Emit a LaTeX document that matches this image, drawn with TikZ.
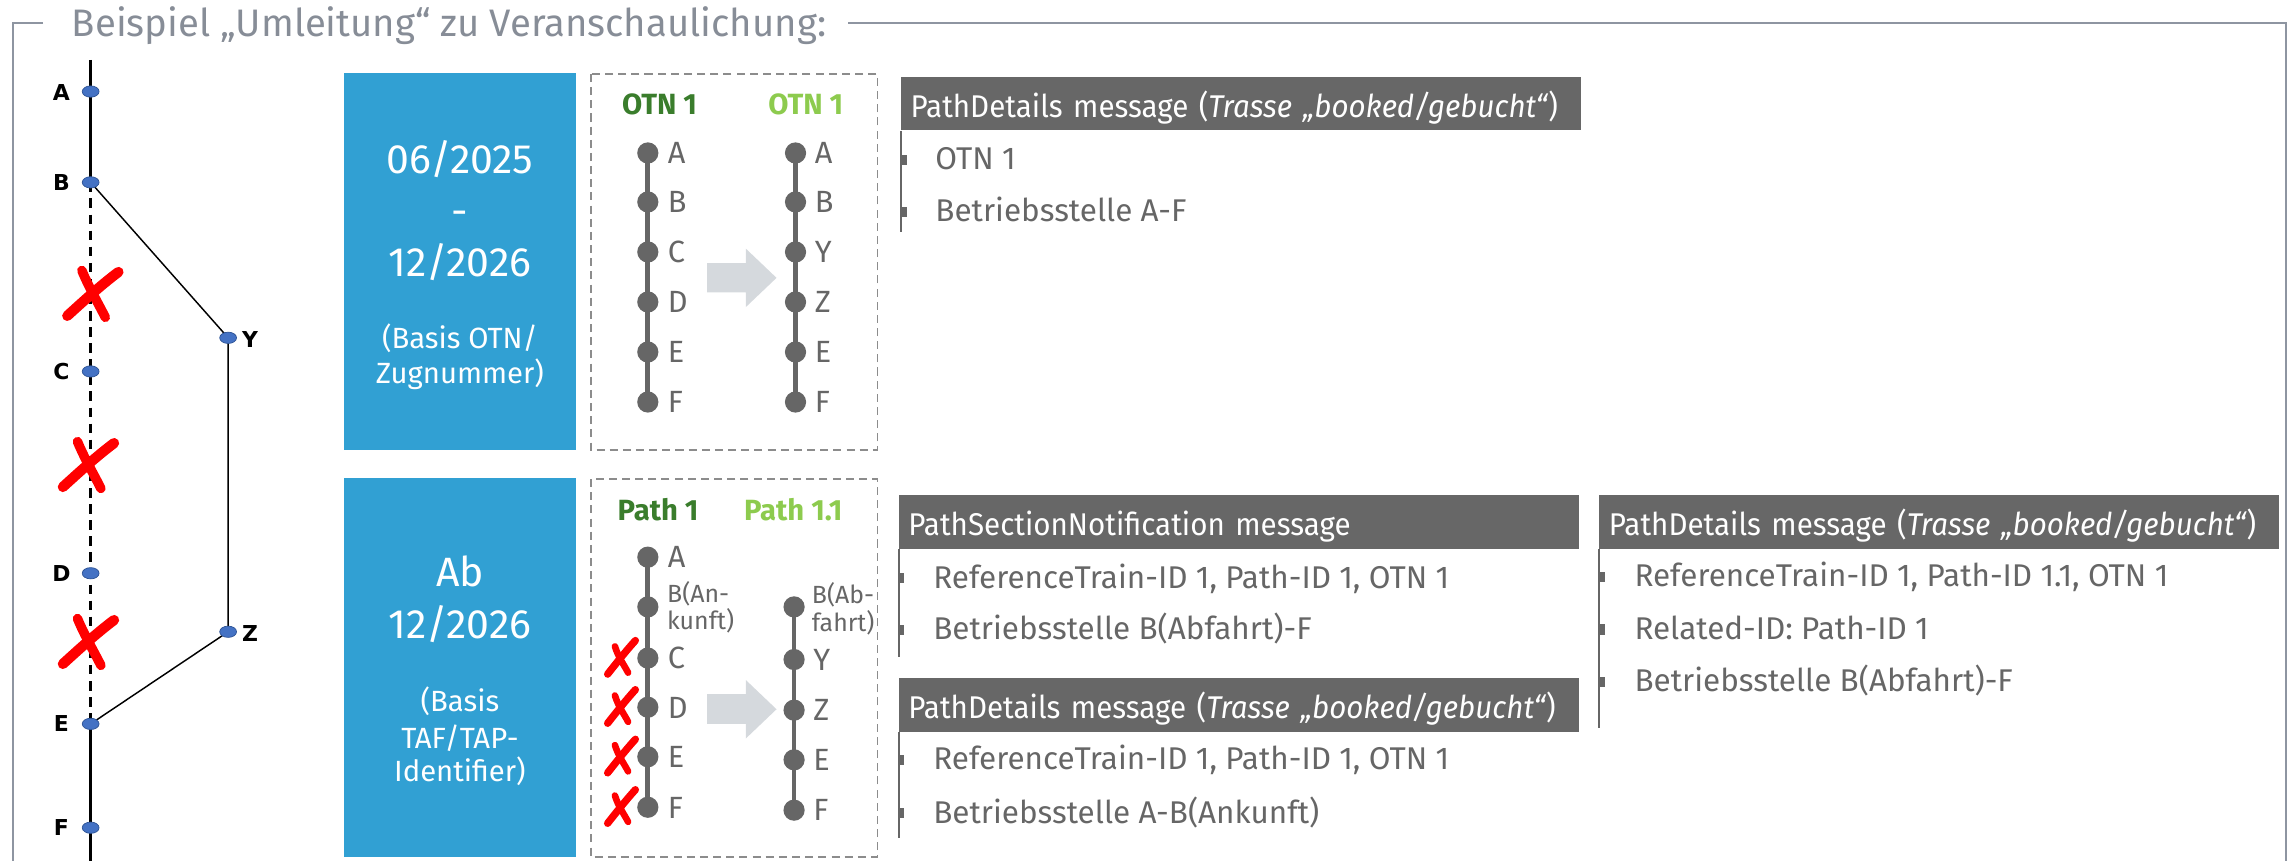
\documentclass[tikz,border=0pt]{standalone}
\usepackage{fontspec}
\setmainfont{Fira Sans}
\newfontfamily\hdrf{Fira Sans}[FakeStretch=0.94]
\newfontfamily\lblf{DejaVu Sans}
\usetikzlibrary{shapes.geometric}
\pgfdeclarelayer{bg}
\pgfsetlayers{bg,main}

\definecolor{framec}{HTML}{8E95A1}
\definecolor{titlec}{HTML}{878D97}
\definecolor{dbblue}{HTML}{31A0D3}
\definecolor{trackc}{HTML}{666666}
\definecolor{darkgreen}{HTML}{3A7D2C}
\definecolor{lightgreen}{HTML}{8DCB4E}
\definecolor{arrowc}{HTML}{D5D9DD}
\definecolor{headc}{HTML}{676767}
\definecolor{itemc}{HTML}{666666}
\definecolor{dotblue}{HTML}{4472C4}
\definecolor{dotedge}{HTML}{2F5597}
\definecolor{dashc}{HTML}{8C8C8C}
\definecolor{xred}{HTML}{FF0000}

\tikzset{
  frameline/.style={draw=framec, line width=1.4},
  bluedot/.style={ellipse, fill=dotblue, draw=dotedge, line width=0.5, minimum width=11.5, minimum height=7.7, inner sep=0},
  trk/.style={font=\lblf\bfseries\fontsize{15}{15}\selectfont, text=black, inner sep=0},
  redstroke/.style={draw=xred, line cap=round, line join=round},
  bigx/.pic={
    \draw[redstroke, line width=7] (-17,15) .. controls (-6,5) and (6,-6) .. (18,-15);
    \draw[redstroke, line width=6.5] (-7,-16) .. controls (-2,-4) and (4,6) .. (9,16);
  },
  smallx/.pic={
    \draw[redstroke, line width=5] (9.5,-12) .. controls (4,-6) and (-4,4) .. (-9.5,11);
    \draw[redstroke, line width=4.5] (-4.5,-8) .. controls (-2,0) and (2,5) .. (4.5,10);
  },
  bluebox/.style={fill=dbblue, inner sep=0, anchor=north west},
  btxt/.style={text=white, anchor=base, inner sep=0},
  dbox/.style={draw=dashc, line width=1.1, dash pattern=on 5.5 off 3.5},
  gdot/.style={circle, fill=trackc, minimum size=14.5, inner sep=0},
  glbl/.style={anchor=base west, inner sep=0, text=trackc, font=\fontsize{21}{21}\selectfont},
  glbls/.style={anchor=base west, inner sep=0, text=trackc, font=\fontsize{17}{17}\selectfont},
  gline/.style={draw=trackc, line width=3.3},
  blockarrow/.style={fill=arrowc},
  colhead/.style={anchor=base, inner sep=0, font=\bfseries\fontsize{20}{20}\selectfont},
  msghead/.style={anchor=north west, fill=headc, text=white, inner xsep=6.5, inner ysep=0, minimum height=36.6, text width=452, align=left, text height=20, text depth=1.4, font=\hdrf\fontsize{21.5}{21.5}\selectfont},
  msgitem/.style={anchor=base west, inner sep=0, text=itemc, font=\fontsize{21.5}{21.5}\selectfont},
  msgline/.style={draw=itemc, line width=1.3},
  bullet/.style={fill=itemc},
}

\begin{document}
\begin{tikzpicture}[x=1pt,y=-1pt]
\useasboundingbox (0,0) rectangle (1568,589);

% ---------- title and frame
\node[anchor=base west, inner sep=0, text=titlec, font=\fontsize{26.2}{26.2}\selectfont] (title) at (49,25) {Beispiel „Umleitung“ zu Veranschaulichung:};
\coordinate (fa) at (29.5,16);
\coordinate (fTL) at (8.6,16);
\coordinate (fBL) at (8.6,589);
\coordinate (fb) at (580,16);
\coordinate (fTR) at (1563,16);
\coordinate (fBR) at (1563,589);
\draw[frameline] (fa) -- (fTL) -- (fBL);
\draw[frameline] (fb) -- (fTR) -- (fBR);

% ---------- left track sketch
\node[bluedot] (pA) at (62,62.6) {};
\node[bluedot] (pB) at (62,124.7) {};
\node[bluedot] (pC) at (62,254) {};
\node[bluedot] (pD) at (62,392) {};
\node[bluedot] (pE) at (62,495) {};
\node[bluedot] (pF) at (62,566) {};
\node[bluedot] (pY) at (156,231) {};
\node[bluedot] (pZ) at (156,432) {};
\coordinate (ltop) at (62,41);
\coordinate (lbot) at (62,589);
\node[trk] (lA) at (42,63) {A};
\node[trk] (lB) at (42,125) {B};
\node[trk] (lC) at (42,254) {C};
\node[trk] (lD) at (42,392) {D};
\node[trk] (lE) at (42,495) {E};
\node[trk] (lF) at (42,566) {F};
\node[trk] (lY) at (171,232) {Y};
\node[trk] (lZ) at (171,433) {Z};
\begin{pgfonlayer}{bg}
\draw[line width=2.3] (ltop) -- (pA.center) -- (pB.center);
\draw[line width=2.3, dash pattern=on 6.5 off 4.5] (pB.center) -- (pE.center);
\draw[line width=2.3] (pE.center) -- (lbot);
\draw[line width=1] (pB.center) -- (pY.center) -- (pZ.center) -- (pE.center);
\end{pgfonlayer}
\pic at (63,201) {bigx};
\pic at (60,318) {bigx};
\pic at (60,439) {bigx};

% ---------- blue boxes
\node[bluebox, minimum width=159, minimum height=258] (bx1) at (235,49.7) {};
\node[btxt, font=\fontsize{28}{28}\selectfont] (b1a) at (314.5,118.7) {06/2025};
\node[btxt, font=\fontsize{28}{28}\selectfont] (b1b) at (314.5,154) {-};
\node[btxt, font=\fontsize{28}{28}\selectfont] (b1c) at (314.5,189) {12/2026};
\node[btxt, font=\fontsize{20}{20}\selectfont] (b1d) at (314.5,238) {(Basis OTN/};
\node[btxt, font=\fontsize{20}{20}\selectfont] (b1e) at (314.5,262) {Zugnummer)};

\node[bluebox, minimum width=159, minimum height=259] (bx2) at (235,327) {};
\node[btxt, font=\fontsize{28}{28}\selectfont] (b2a) at (314.5,401) {Ab};
\node[btxt, font=\fontsize{28}{28}\selectfont] (b2b) at (314.5,436.5) {12/2026};
\node[btxt, font=\fontsize{20}{20}\selectfont] (b2c) at (314.5,486.6) {(Basis};
\node[btxt, font=\fontsize{20}{20}\selectfont] (b2d) at (314.5,511.6) {TAF/TAP-};
\node[btxt, font=\fontsize{20}{20}\selectfont] (b2e) at (314.5,534.5) {Identifier)};

% ---------- dashed boxes
\draw[dbox] (404,50.6) rectangle (600,307.7);
\draw[dbox] (404,327.6) rectangle (600,586);

% top dashed content
\node[colhead, text=darkgreen] (h1l) at (451,78.6) {OTN 1};
\node[colhead, text=lightgreen] (h1r) at (551,78.6) {OTN 1};
\foreach \n/\y/\l in {1/104.6/A,2/138.1/B,3/172.3/C,4/206.5/D,5/240.7/E,6/274.9/F}{
  \node[gdot] (ta\n) at (443,\y) {};
  \node[glbl] (tal\n) at (456.5,\y+7.4) {\l};
}
\foreach \n/\y/\l in {1/104.6/A,2/138.1/B,3/172.3/Y,4/206.5/Z,5/240.7/E,6/274.9/F}{
  \node[gdot] (tb\n) at (544,\y) {};
  \node[glbl] (tbl\n) at (557,\y+7.4) {\l};
}
\begin{pgfonlayer}{bg}
\draw[gline] (ta1.center) -- (ta6.center);
\draw[gline] (tb1.center) -- (tb6.center);
\end{pgfonlayer}
\fill[blockarrow] (483.6,180) -- (510,180) -- (510,170) -- (531,190) -- (510,210) -- (510,200) -- (483.6,200) -- cycle;

% bottom dashed content
\node[colhead, text=darkgreen] (h2l) at (450,355.6) {Path 1};
\node[colhead, text=lightgreen] (h2r) at (542.5,355.6) {Path 1.1};
\node[gdot] (ua1) at (443,381) {};
\node[gdot] (ua2) at (443,415) {};
\node[gdot] (ua3) at (443,450) {};
\node[gdot] (ua4) at (443,483.6) {};
\node[gdot] (ua5) at (443,517.5) {};
\node[gdot] (ua6) at (443,552) {};
\node[glbl] (ual1) at (456.5,388.4) {A};
\node[glbls] (ual2) at (456,412) {B(An-};
\node[glbls] (ual2b) at (456,430.3) {kunft)};
\node[glbl] (ual3) at (456.5,457.4) {C};
\node[glbl] (ual4) at (456.5,491) {D};
\node[glbl] (ual5) at (456.5,524.9) {E};
\node[glbl] (ual6) at (456.5,559.4) {F};
\node[gdot] (ub2) at (543,415) {};
\node[gdot] (ub3) at (543,451) {};
\node[gdot] (ub4) at (543,485.6) {};
\node[gdot] (ub5) at (543,519.6) {};
\node[gdot] (ub6) at (543,554) {};
\node[glbls] (ubl2) at (555,413) {B(Ab-};
\node[glbls] (ubl2b) at (555,432) {fahrt)};
\node[glbl] (ubl3) at (556,458.4) {Y};
\node[glbl] (ubl4) at (556,493) {Z};
\node[glbl] (ubl5) at (556,527) {E};
\node[glbl] (ubl6) at (556,561.4) {F};
\begin{pgfonlayer}{bg}
\draw[gline] (ua1.center) -- (ua6.center);
\draw[gline] (ub2.center) -- (ub6.center);
\end{pgfonlayer}
\fill[blockarrow] (483.6,474.6) -- (510,474.6) -- (510,465) -- (531,485) -- (510,505) -- (510,495) -- (483.6,495) -- cycle;
\pic at (425,450) {smallx};
\pic at (425,483.6) {smallx};
\pic at (425,517.5) {smallx};
\pic at (425,552) {smallx};

% ---------- message boxes
% group 1
\node[msghead] (m1) at (616,52.4) {\mbox{PathDetails message (\textit{Trasse „booked/gebucht“})}};
\coordinate (m1e) at (616,158.5);
\draw[msgline] (m1.south west) -- (m1e);
\node[msgitem] (m1a) at (639.5,116.2) {OTN 1};
\node[msgitem] (m1b) at (639.5,151.6) {Betriebsstelle A-F};
\fill[bullet] (616,106) rectangle (620,113);
\fill[bullet] (616,141.5) rectangle (620,148.5);

% group 2
\node[msghead] (m2) at (614.5,338.5) {\mbox{PathSectionNotification message}};
\coordinate (m2e) at (614.5,449);
\draw[msgline] (m2.south west) -- (m2e);
\node[msgitem] (m2a) at (638,402.3) {ReferenceTrain-ID 1, Path-ID 1, OTN 1};
\node[msgitem] (m2b) at (638,437.6) {Betriebsstelle B(Abfahrt)-F};
\fill[bullet] (614.5,392) rectangle (618.5,399);
\fill[bullet] (614.5,427.5) rectangle (618.5,434.5);

% group 3
\node[msghead] (m3) at (614.5,463.6) {\mbox{PathDetails message (\textit{Trasse „booked/gebucht“})}};
\coordinate (m3e) at (614.5,573);
\draw[msgline] (m3.south west) -- (m3e);
\node[msgitem] (m3a) at (638,526.5) {ReferenceTrain-ID 1, Path-ID 1, OTN 1};
\node[msgitem] (m3b) at (638,563) {Betriebsstelle A-B(Ankunft)};
\fill[bullet] (614.5,516) rectangle (618.5,523);
\fill[bullet] (614.5,552.5) rectangle (618.5,559.5);

% group 4
\node[msghead] (m4) at (1093.5,338.5) {\mbox{PathDetails message (\textit{Trasse „booked/gebucht“})}};
\coordinate (m4e) at (1093.5,498);
\draw[msgline] (m4.south west) -- (m4e);
\node[msgitem] (m4a) at (1117.5,401.2) {ReferenceTrain-ID 1, Path-ID 1.1, OTN 1};
\node[msgitem] (m4b) at (1117.5,437.2) {Related-ID: Path-ID 1};
\node[msgitem] (m4c) at (1117.5,473) {Betriebsstelle B(Abfahrt)-F};
\fill[bullet] (1093.5,391) rectangle (1097.5,398);
\fill[bullet] (1093.5,427) rectangle (1097.5,434);
\fill[bullet] (1093.5,463) rectangle (1097.5,470);
\end{tikzpicture}
\end{document}
